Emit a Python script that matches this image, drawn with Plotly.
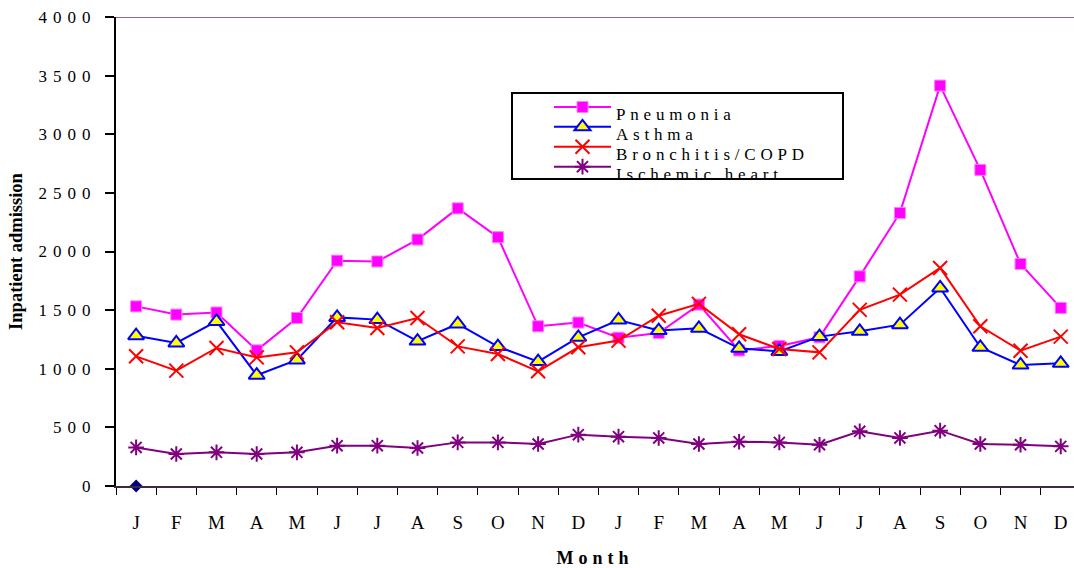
import plotly.graph_objects as go

months = ["J", "F", "M", "A", "M", "J", "J", "A", "S", "O", "N", "D",
          "J", "F", "M", "A", "M", "J", "J", "A", "S", "O", "N", "D"]
x_idx = list(range(len(months)))

pneumonia = [1532, 1462, 1480, 1157, 1433, 1922, 1915, 2102, 2368, 2122, 1362, 1394,
             1265, 1305, 1547, 1156, 1195, 1268, 1788, 2329, 3415, 2696, 1894, 1519]
asthma = [1282, 1220, 1404, 945, 1075, 1438, 1419, 1236, 1382, 1189, 1061, 1268,
          1416, 1326, 1345, 1174, 1148, 1274, 1319, 1376, 1689, 1183, 1032, 1046]
bronchitis = [1106, 984, 1177, 1097, 1140, 1396, 1348, 1433, 1191, 1126, 978, 1183,
              1240, 1452, 1553, 1294, 1169, 1140, 1502, 1632, 1860, 1362, 1154, 1274]
ischemic = [329, 273, 287, 273, 287, 344, 344, 324, 372, 372, 358, 438,
            421, 410, 358, 378, 372, 352, 466, 410, 472, 358, 352, 338]
stray = [0]   # lone marker sitting on the axis at the first J

y_ticks = [0, 500, 1000, 1500, 2000, 2500, 3000, 3500, 4000]

serif = "Liberation Serif, Times New Roman, serif"


def spaced(s, px, extra=""):
    # old excel-style letter spaced text
    return "<span style='letter-spacing:%gpx;%s'>%s</span>" % (px, extra, s)


def leg(s):
    return spaced(s, 4.8, "font-size:17px;baseline-shift:-8px")


fig = go.Figure()

fig.add_trace(go.Scatter(
    x=x_idx, y=pneumonia, name=leg("Pneumonia"), mode="lines+markers",
    line=dict(color="#FF00FF", width=2),
    marker=dict(symbol="square", size=11, color="#FF00FF",
                line=dict(color="#FF7CFF", width=1))))
fig.add_trace(go.Scatter(
    x=x_idx, y=asthma, name=leg("Asthma"), mode="lines+markers",
    line=dict(color="#0000FF", width=2),
    marker=dict(symbol="triangle-up", size=14, color="#FFFF00",
                line=dict(color="#0000FF", width=2))))
fig.add_trace(go.Scatter(
    x=x_idx, y=bronchitis, name=leg("Bronchitis/COPD"), mode="lines+markers",
    line=dict(color="#FF0000", width=2),
    marker=dict(symbol="x-thin", size=14, line=dict(color="#FF0000", width=2))))
fig.add_trace(go.Scatter(
    x=x_idx, y=ischemic, name=leg("Ischemic heart"), mode="lines+markers",
    line=dict(color="#800080", width=2),
    marker=dict(symbol="asterisk-open", size=13, line=dict(color="#800080", width=2))))
fig.add_trace(go.Scatter(
    x=x_idx[:1], y=stray, mode="markers", showlegend=False, hoverinfo="skip",
    marker=dict(symbol="diamond", size=10, color="#000080"), cliponaxis=False))

# legend frame
fig.add_shape(type="rect", xref="paper", yref="paper",
              x0=(512 - 116) / 958, x1=(843 - 116) / 958,
              y0=(486 - 179) / 469, y1=(486 - 93) / 469,
              line=dict(color="black", width=2), fillcolor="white", layer="below")
# top border line at 4000
fig.add_shape(type="line", xref="paper", yref="y", x0=0, x1=1, y0=4000, y1=4000,
              line=dict(color="#8C6A8C", width=2))

fig.update_layout(
    width=1074, height=568,
    margin=dict(l=116, r=0, t=17, b=82),
    paper_bgcolor="white", plot_bgcolor="white",
    font=dict(family=serif, color="black"),
    showlegend=True,
    legend=dict(x=(549 - 116) / 958, y=(486 - 92) / 469, xanchor="left", yanchor="top",
                bgcolor="rgba(0,0,0,0)", borderwidth=0,
                font=dict(family=serif, size=13, color="black"),
                itemwidth=57, tracegroupgap=0),
)

fig.update_xaxes(
    range=[-0.5, 23.33], tickmode="array", tickvals=x_idx, ticktext=months,
    showgrid=False, zeroline=False,
    showline=True, linecolor="#3A2A3A", linewidth=2,
    ticks="", ticklen=0,
    minor=dict(tickmode="array", tickvals=[i - 0.5 for i in range(25)],
               ticks="outside", ticklen=7, tickwidth=1, tickcolor="black", showgrid=False),
    tickfont=dict(family=serif, size=19, color="black"),
    ticklabelstandoff=18,
    title=dict(text="<b>" + spaced("Month", 5) + "</b>",
               font=dict(family=serif, size=18, color="black"), standoff=20),
    automargin=False,
)

fig.update_yaxes(
    range=[0, 4000], tickmode="array", tickvals=y_ticks,
    ticktext=[spaced(str(v), 6) for v in y_ticks],
    showgrid=False, zeroline=False,
    showline=True, linecolor="black", linewidth=2,
    ticks="outside", ticklen=9, tickwidth=2, tickcolor="black",
    tickfont=dict(family=serif, size=17, color="black"),
    ticklabelstandoff=5,
    title=dict(text="<b>Inpatient admission</b>",
               font=dict(family=serif, size=18.5, color="black"), standoff=11),
    automargin=False,
)

fig.write_html("out.html", config={"displayModeBar": False},
               post_script="document.body.style.margin='0';")
